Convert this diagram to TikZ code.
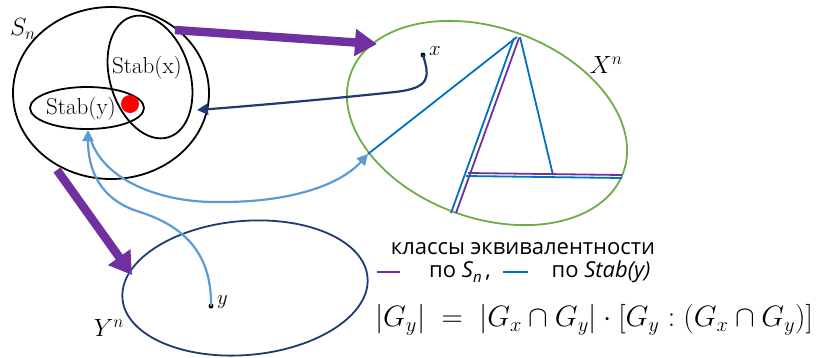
\documentclass[tikz,border=0pt]{standalone}
\usepackage{fontspec}
\usepackage{graphicx}
\newfontfamily\legendfont{Open Sans}
\usetikzlibrary{arrows.meta}
\definecolor{vio}{HTML}{7030A0}
\definecolor{navy}{HTML}{1F3A6E}
\definecolor{sky}{HTML}{5B9BD5}
\definecolor{tblue}{HTML}{0070C0}
\definecolor{leaf}{HTML}{70AD47}
\begin{document}
\begin{tikzpicture}[x=1pt,y=-1pt,every node/.style={font=\fontsize{23}{25}\selectfont},
  fat/.style={vio,line width=8.5pt,-{Triangle[width=26pt,length=22pt]}},
  thin/.style={line width=1.8pt},
  dot/.style={circle,fill=black,inner sep=0pt,minimum size=5pt},
  legend/.style={font=\legendfont\fontsize{22}{24}\selectfont,inner sep=0pt}]
  \useasboundingbox (0,0) rectangle (821,357);
  % group S_n with the two stabilisers
  \draw[thin] (111,93) ellipse[x radius=98,y radius=86];
  \draw[thin,rotate around={17:(150,77)}] (150,77) ellipse[x radius=40,y radius=63];
  \draw[thin] (87,108) ellipse[x radius=57,y radius=21];
  \node (sn) at (23,29) {\fontsize{26}{28}\selectfont$S_n$};
  \node (stabx) at (147,68) {Stab(x)};
  \node (staby) at (81,109) {Stab(y)};
  \node[circle,fill=red,inner sep=0pt,minimum size=18pt] (core) at (130,104) {};
  % sets X^n and Y^n
  \draw[leaf,thin,rotate around={-20:(487,123)}] (487,123) ellipse[x radius=145,y radius=95];
  \draw[navy,thin,rotate around={5:(245,288)}] (245,288) ellipse[x radius=123,y radius=67];
  \node (xn) at (606,65) {\fontsize{24}{26}\selectfont$X^n$};
  \node (yn) at (109,328) {\fontsize{26}{28}\selectfont$Y^n$};
  \node[dot] (xdot) at (423,55) {};
  \node[anchor=west,inner sep=1pt] (xlab) at (428,51) {\fontsize{22}{24}\selectfont$x$};
  \node[dot] (ydot) at (211,306) {};
  \node[anchor=west,inner sep=1pt] (ylab) at (216,302) {\fontsize{22}{24}\selectfont$y$};
  \coordinate (xarr) at (197,110);
  \coordinate (yarr) at (88,130);
  \coordinate (xleft) at (368,154);
  % the actions
  \draw[fat] (175,30) -- (377,44);
  \draw[fat] (57,170) -- (132,275);
  \draw[navy,line width=2.2pt,-{Triangle[width=11pt,length=11pt]}] (xdot.center) .. controls (430,78) and (430,88) .. (395,92) .. controls (330,99) and (250,106) .. (xarr);
  \draw[sky,line width=2.2pt,-{Triangle[width=11pt,length=11pt]}] (ydot.center) .. controls (212,250) and (180,225) .. (140,212) .. controls (100,200) and (88,170) .. (yarr);
  \draw[sky,line width=2.2pt,-{Triangle[width=11pt,length=11pt]}] (89,134) .. controls (100,180) and (160,202) .. (215,202) .. controls (290,203) and (340,185) .. (xleft);
  % orbits inside X^n
  \draw[tblue,thin] (517,37) -- (xleft);
  \draw[tblue,thin] (520,37) -- (553,175);
  \draw[tblue,thin] (514,38) -- (451,213);
  \draw[vio,thin] (519,38) -- (456,213);
  \draw[vio,thin] (468,173) -- (622,175);
  \draw[tblue,thin] (466,176) -- (622,178);
  % legend and formula
  \node[legend] (cls) at (523,249) {классы эквивалентности};
  \draw[vio,thin] (377,272) -- (400,272);
  \node[legend] (bysn) at (460,272) {по \textit{S}\raisebox{-0.5ex}{\fontsize{15}{15}\selectfont\textit{n}}\,,};
  \draw[tblue,thin] (503,272) -- (528,272);
  \node[legend] (bystab) at (601,272) {по \textit{Stab(y)}};
  \node (eq) at (594,320) {\resizebox{438pt}{!}{$|G_y| \;=\; |G_x\cap G_y|\cdot[G_y:(G_x\cap G_y)]$}};
\end{tikzpicture}
\end{document}
